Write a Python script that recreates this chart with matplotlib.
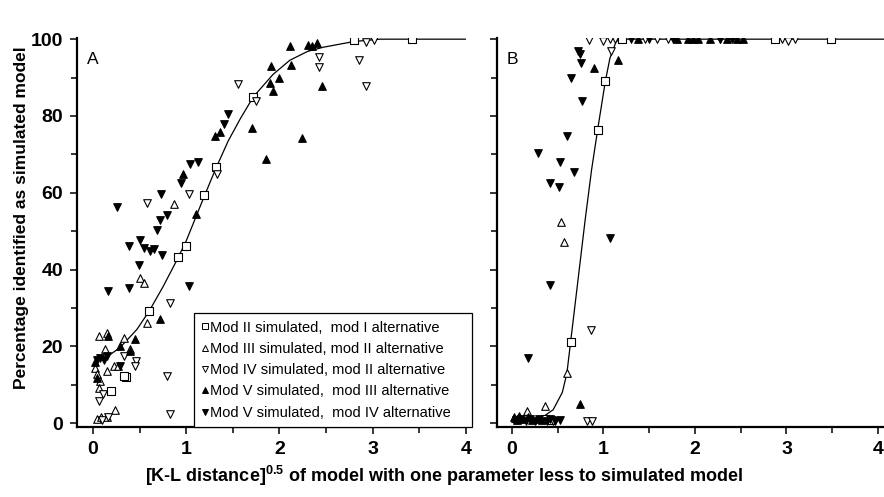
import matplotlib
matplotlib.use("Agg")
import matplotlib.pyplot as plt
from matplotlib.ticker import MultipleLocator
from matplotlib.lines import Line2D

plt.rcParams['font.family'] = ['Liberation Sans', 'DejaVu Sans']
plt.rcParams['mathtext.fontset'] = 'custom'
plt.rcParams['mathtext.bf'] = 'Liberation Sans:bold'
plt.rcParams['mathtext.rm'] = 'Liberation Sans'

### Data: panel A ###
a_m2_x = [0.19, 0.35, 0.33, 0.60, 0.91, 1.00, 1.19, 1.32, 1.72, 2.80, 3.42]
a_m2_y = [8.4, 12.1, 12.3, 29.1, 43.2, 46.2, 59.3, 66.8, 85.0, 99.7, 100.0]

a_m3_x = [0.06, 0.15, 0.13, 0.33, 0.40, 0.02, 0.04, 0.08, 0.06, 0.15, 0.22, 0.27,
          0.04, 0.09, 0.15, 0.24, 0.58, 0.50, 0.55, 0.87]
a_m3_y = [22.6, 23.5, 19.4, 22.2, 19.2, 14.4, 12.7, 11.0, 9.2, 13.5, 14.8, 14.8,
          1.2, 1.7, 1.5, 3.4, 26.1, 37.7, 36.4, 57.2]

a_m4_x = [0.33, 0.46, 0.45, 0.11, 0.06, 0.16, 0.10, 0.79, 0.83, 0.83, 1.03, 0.58,
          1.33, 1.56, 1.75, 2.42, 2.42, 2.85, 2.93, 2.93, 3.01]
a_m4_y = [17.4, 16.1, 15.0, 7.5, 5.8, 1.5, 0.8, 12.3, 2.5, 31.3, 59.8, 57.3,
          65.0, 88.2, 84.0, 95.3, 92.7, 94.5, 87.8, 99.3, 99.9]

a_m53_x = [0.02, 0.04, 0.16, 0.29, 0.40, 0.45, 0.72, 0.97, 1.10, 1.31, 1.36, 1.70,
           1.86, 1.90, 1.93, 1.91, 2.00, 2.11, 2.12, 2.24, 2.31, 2.35, 2.40, 2.46]
a_m53_y = [16.0, 11.8, 22.6, 20.0, 18.7, 21.8, 27.0, 64.8, 54.6, 74.9, 75.7, 76.9,
           68.8, 88.7, 86.5, 93.0, 90.0, 98.2, 93.4, 74.3, 98.6, 98.2, 99.0, 87.8]

a_m54_x = [0.04, 0.08, 0.12, 0.15, 0.29, 0.16, 0.39, 0.49, 0.39, 0.50, 0.55, 0.61,
           0.65, 0.74, 0.69, 0.72, 1.03, 0.26, 0.73, 0.79, 0.94, 1.04, 1.13, 1.40, 1.45]
a_m54_y = [16.5, 17.0, 16.5, 17.5, 14.8, 34.5, 35.1, 41.2, 46.1, 47.7, 45.6, 44.9,
           45.3, 43.8, 50.3, 52.8, 35.6, 56.3, 59.8, 54.1, 62.6, 67.5, 68.0, 77.9, 80.5]

a_fit_x = [0.11, 0.29, 0.47, 0.60, 0.75, 0.90, 1.00, 1.10, 1.20, 1.32, 1.45, 1.58,
           1.72, 1.93, 2.11, 2.30, 2.47, 2.80, 3.08, 4.00]
a_fit_y = [16.6, 19.7, 24.4, 29.1, 35.5, 42.5, 47.5, 53.5, 59.5, 66.5, 73.5, 79.3,
           85.0, 90.8, 94.5, 96.8, 97.9, 99.4, 100.0, 100.0]

### Data: panel B ###
b_m2_x = [0.36, 0.43, 0.64, 0.94, 1.02, 1.20, 2.87, 3.49]
b_m2_y = [1.0, 0.8, 21.1, 76.3, 89.1, 100.0, 100.0, 100.0]

b_m3_x = [0.05, 0.16, 0.36, 0.60, 0.54, 0.57]
b_m3_y = [1.0, 3.2, 4.5, 13.1, 52.4, 47.2]

b_m4_x = [0.45, 0.82, 0.87, 0.86, 1.08, 0.84, 1.00, 1.07, 1.13, 1.45, 1.58, 1.70,
          2.27, 2.95, 3.02, 3.09]
b_m4_y = [0.5, 0.6, 0.6, 24.2, 96.9, 99.7, 99.5, 100.0, 100.0, 100.0, 100.0, 100.0,
          100.0, 100.0, 99.5, 100.0]

b_m53_x = [0.02, 0.05, 0.08, 0.12, 0.18, 0.22, 0.28, 0.33, 0.74, 0.90, 1.16,
           1.38, 1.80, 1.92, 1.98, 2.03, 2.16, 2.35, 2.46, 2.52]
b_m53_y = [1.5, 0.8, 2.0, 1.0, 1.5, 0.8, 1.2, 0.8, 4.9, 92.6, 94.7,
           100.0, 100.0, 100.0, 100.0, 100.0, 100.0, 100.0, 100.0, 100.0]

b_m54_x = [0.04, 0.10, 0.15, 0.20, 0.25, 0.30, 0.38, 0.42, 0.47, 0.52,
           0.18, 0.41, 1.07, 0.41, 0.51, 0.68, 0.52, 0.28, 0.60, 0.76, 0.65,
           0.75, 0.72, 0.74, 1.30, 1.50, 1.76, 2.27, 2.40]
b_m54_y = [0.8, 1.2, 0.5, 1.0, 0.6, 1.0, 0.5, 1.2, 0.6, 0.8,
           17.0, 36.0, 48.1, 62.6, 61.5, 65.4, 68.0, 70.4, 74.7, 83.9, 89.8,
           93.7, 96.9, 96.2, 100.0, 100.0, 100.0, 100.0, 100.0]

b_fit_x = [0.00, 0.30, 0.45, 0.55, 0.60, 0.64, 0.70, 0.75, 0.80, 0.87, 0.94,
           1.02, 1.07, 1.14, 1.25, 4.10]
b_fit_y = [0.2, 1.0, 3.5, 8.0, 13.0, 21.0, 33.0, 43.0, 53.0, 66.0, 77.0,
           89.0, 95.0, 99.5, 100.0, 100.0]

labels = ["Mod II simulated,  mod I alternative",
          "Mod III simulated, mod II alternative",
          "Mod IV simulated, mod II alternative",
          "Mod V simulated,  mod III alternative",
          "Mod V simulated,  mod IV alternative"]
markers = ["s", "^", "v", "^", "v"]
faces = ["white", "white", "white", "black", "black"]

fig = plt.figure(figsize=(8.84, 4.97), dpi=100)
axA = fig.add_axes([0.0871, 0.1408, 0.440, 0.7827])
axB = fig.add_axes([0.5622, 0.1408, 0.4378, 0.7827])

panels = [
    (axA, [(a_m2_x, a_m2_y), (a_m3_x, a_m3_y), (a_m4_x, a_m4_y), (a_m53_x, a_m53_y), (a_m54_x, a_m54_y)],
     (a_fit_x, a_fit_y), "A", (-0.172, 4.0)),
    (axB, [(b_m2_x, b_m2_y), (b_m3_x, b_m3_y), (b_m4_x, b_m4_y), (b_m53_x, b_m53_y), (b_m54_x, b_m54_y)],
     (b_fit_x, b_fit_y), "B", (-0.164, 4.066)),
]

for ax, series, fit, letter, xlim in panels:
    ax.plot(fit[0], fit[1], color="black", lw=0.9, zorder=1)
    for (xs, ys), m, fc in zip(series, markers, faces):
        ms = 30 if m != "s" else 26
        ax.scatter(xs, ys, marker=m, s=ms, facecolors=fc, edgecolors="black",
                   linewidths=0.8, zorder=2)
    ax.set_xlim(*xlim)
    ax.set_ylim(-1, 100.3)
    ax.spines["top"].set_visible(False)
    ax.spines["right"].set_visible(False)
    ax.spines["left"].set_linewidth(1.6)
    ax.spines["bottom"].set_linewidth(1.6)
    ax.xaxis.set_major_locator(MultipleLocator(1))
    ax.xaxis.set_minor_locator(MultipleLocator(0.5))
    ax.yaxis.set_major_locator(MultipleLocator(20))
    ax.yaxis.set_minor_locator(MultipleLocator(10))
    ax.tick_params(which="major", direction="out", length=5, width=1.1,
                   labelsize=14, pad=5)
    ax.tick_params(which="minor", direction="out", length=4, width=1.1)
    for lab in ax.get_xticklabels() + ax.get_yticklabels():
        lab.set_fontweight("bold")
    ax.text(-0.06, 94.8, letter, fontsize=12.5, va="center", ha="left")

axB.set_yticklabels([])

handles = [Line2D([], [], ls="none", marker=m, markersize=4.5 if m != "s" else 4,
                  markerfacecolor=fc, markeredgecolor="black", markeredgewidth=0.7)
           for m, fc in zip(markers, faces)]
leg = axA.legend(handles, labels, loc="lower left", bbox_to_anchor=(0.30, 0.0, 0.715, 0.311),
                 mode="expand", fontsize=10.5, handlelength=0.5, handletextpad=0.15,
                 labelspacing=0.5, borderpad=0.5, borderaxespad=0, fancybox=False,
                 framealpha=1, edgecolor="black")
leg.get_frame().set_linewidth(0.9)
leg.set_zorder(5)

fig.text(22 / 884, 1 - 218 / 497, "Percentage identified as simulated model",
         rotation=90, ha="center", va="center", fontsize=12.5, fontweight="bold")
fig.text(444 / 884, 1 - 476 / 497,
         r"[K-L distance]$^{\mathbf{0.5}}$ of model with one parameter less to simulated model",
         ha="center", va="center", fontsize=13, fontweight="bold")

fig.savefig("out.png", dpi=100)
